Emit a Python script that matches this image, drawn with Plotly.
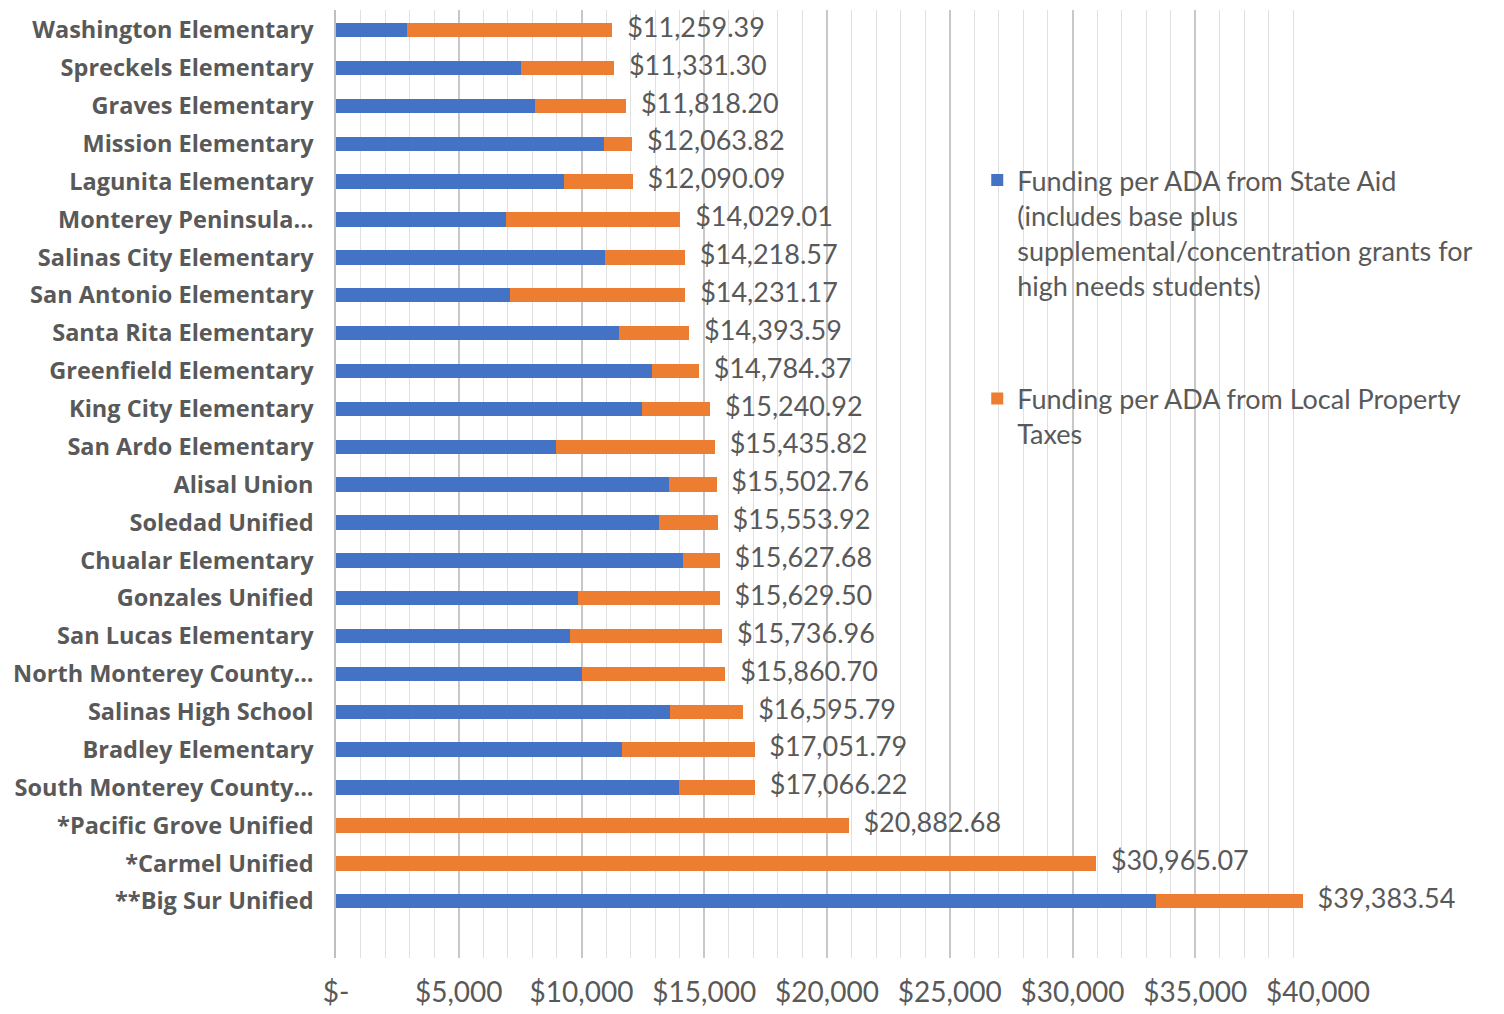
import plotly.graph_objects as go

districts = [
    "Washington Elementary", "Spreckels Elementary", "Graves Elementary",
    "Mission Elementary", "Lagunita Elementary", "Monterey Peninsula...",
    "Salinas City Elementary", "San Antonio Elementary", "Santa Rita Elementary",
    "Greenfield Elementary", "King City Elementary", "San Ardo Elementary",
    "Alisal Union", "Soledad Unified", "Chualar Elementary", "Gonzales Unified",
    "San Lucas Elementary", "North Monterey County...", "Salinas High School",
    "Bradley Elementary", "South Monterey County...", "*Pacific Grove Unified",
    "*Carmel Unified", "**Big Sur Unified",
]

total_per_ada = [
    11259.39, 11331.30, 11818.20, 12063.82, 12090.09, 14029.01,
    14218.57, 14231.17, 14393.59, 14784.37, 15240.92, 15435.82,
    15502.76, 15553.92, 15627.68, 15629.50, 15736.96, 15860.70,
    16595.79, 17051.79, 17066.22, 20882.68, 30965.07, 39383.54,
]

state_aid = [
    2900, 7550, 8120, 10900, 9270, 6940,
    10940, 7100, 11510, 12860, 12450, 8980,
    13570, 13160, 14140, 9850, 9550, 10010,
    13620, 11650, 13960, 0, 0, 33390,
]

local_taxes = [round(t - s, 2) for t, s in zip(total_per_ada, state_aid)]
labels = ["${:,.2f}".format(t) for t in total_per_ada]

x_tick_vals = [0, 5000, 10000, 15000, 20000, 25000, 30000, 35000, 40000]
x_tick_text = ["$-", "$5,000", "$10,000", "$15,000", "$20,000", "$25,000",
               "$30,000", "$35,000", "$40,000"]

BLUE = "#4472C4"
ORANGE = "#ED7D31"
GRAY_TEXT = "#595959"
FONT = "Lato"

fig = go.Figure()
fig.add_trace(go.Bar(
    y=districts, x=state_aid, orientation="h",
    name="Funding per ADA from State Aid<br>(includes base plus<br>supplemental/concentration grants for<br>high needs students)",
    marker=dict(color=BLUE, line=dict(width=0)),
    legendgroup="a", hoverinfo="x+y",
))
fig.add_trace(go.Bar(
    y=districts, x=local_taxes, orientation="h",
    name="Funding per ADA from Local Property<br>Taxes",
    marker=dict(color=ORANGE, line=dict(width=0)),
    legendgroup="b", hoverinfo="x+y",
))
fig.add_trace(go.Scatter(
    y=districts, x=total_per_ada, mode="markers+text",
    text=labels, textposition="middle right",
    marker=dict(size=22, color="rgba(0,0,0,0)"),
    textfont=dict(family=FONT, size=27, color=GRAY_TEXT),
    showlegend=False, hoverinfo="skip", cliponaxis=False,
))

# page body adds an 8px offset, so the figure is 8px smaller and margins shifted
fig.update_layout(
    width=1496, height=1006,
    margin=dict(l=328, r=186, t=2, b=56, autoexpand=False),
    barmode="stack", bargap=0.62,
    plot_bgcolor="white", paper_bgcolor="white",
    font=dict(family=FONT, color=GRAY_TEXT),
    legend=dict(
        x=0.653, y=0.846, xanchor="left", yanchor="top",
        bgcolor="rgba(255,255,255,0)", valign="top",
        font=dict(family=FONT, size=27, color=GRAY_TEXT),
        tracegroupgap=75, itemwidth=30,
    ),
    xaxis=dict(
        range=[0, 40000], tickvals=x_tick_vals, ticktext=x_tick_text,
        showgrid=True, gridcolor="#C8C8C8", gridwidth=1.5,
        minor=dict(dtick=1000, showgrid=True, gridcolor="#E0E0E0", gridwidth=1),
        zeroline=False, showline=False,
        tickfont=dict(family=FONT, size=28, color=GRAY_TEXT),
        ticklabelstandoff=15,
    ),
    yaxis=dict(
        type="category", categoryorder="array", categoryarray=districts,
        range=[24.5, -0.53],
        showgrid=False, showline=True, linecolor="#BFBFBF", linewidth=1.5,
        tickfont=dict(family="Open Sans", size=23.5, color=GRAY_TEXT, weight="bold"),
        ticklabelstandoff=16,
    ),
)

fig.write_html("out.html")
